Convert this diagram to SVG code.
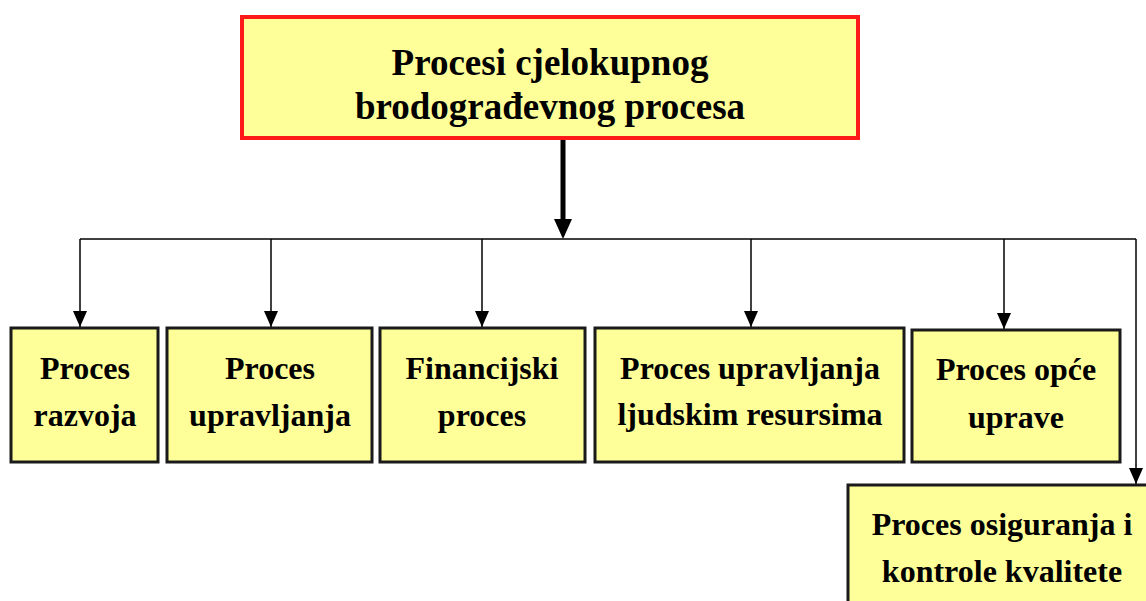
<svg xmlns="http://www.w3.org/2000/svg" width="1146" height="601" viewBox="0 0 1146 601">
<style>
.box{fill:#FFFF99;stroke:#1a1a1a;stroke-width:3}
.title{fill:#FFFF99;stroke:#FF1a1a;stroke-width:4}
.t{font-family:"Liberation Serif","Times New Roman",serif;font-weight:bold;font-size:32px;text-anchor:middle;fill:#000}
.tt{font-size:37px}
.ln{stroke:#000;stroke-width:1.5;fill:none}
.arr{marker-end:url(#ah)}
</style>
<defs>
<marker id="ah" markerWidth="16" markerHeight="14" refX="16" refY="7" orient="auto" markerUnits="userSpaceOnUse" viewBox="0 0 16 14">
<path d="M0,0 L16,7 L0,14 Z" fill="#000"/>
</marker>
</defs>
<rect width="1146" height="601" fill="#fff"/>
<g id="connectors">
<line x1="563" y1="140" x2="563" y2="220" stroke="#000" stroke-width="5"/>
<path d="M554,219 L572,219 L563,239 Z" fill="#000"/>
<path class="ln" d="M80,239 L1136,239"/>
<path class="ln arr" d="M80,239 L80,327"/>
<path class="ln arr" d="M271,239 L271,327"/>
<path class="ln arr" d="M482,239 L482,327"/>
<path class="ln arr" d="M751,239 L751,327"/>
<path class="ln arr" d="M1004,239 L1004,329"/>
<path class="ln arr" d="M1136,239 L1136,484"/>
</g>
<g id="root">
<rect class="title" x="242" y="17" width="616" height="121"/>
<text class="t tt" x="550" y="75">Procesi cjelokupnog</text>
<text class="t tt" x="550" y="119">brodograđevnog procesa</text>
</g>
<g id="n1">
<rect class="box" x="11" y="328" width="147" height="134"/>
<text class="t" x="85" y="379">Proces</text>
<text class="t" x="85" y="426">razvoja</text>
</g>
<g id="n2">
<rect class="box" x="167" y="328" width="205" height="134"/>
<text class="t" x="270" y="379">Proces</text>
<text class="t" x="270" y="426">upravljanja</text>
</g>
<g id="n3">
<rect class="box" x="380" y="328" width="205" height="134"/>
<text class="t" x="482" y="379">Financijski</text>
<text class="t" x="482" y="426">proces</text>
</g>
<g id="n4">
<rect class="box" x="595" y="328" width="309" height="134"/>
<text class="t" x="750" y="379">Proces upravljanja</text>
<text class="t" x="750" y="425">ljudskim resursima</text>
</g>
<g id="n5">
<rect class="box" x="912" y="330" width="208" height="132"/>
<text class="t" x="1016" y="380">Proces opće</text>
<text class="t" x="1016" y="428">uprave</text>
</g>
<g id="n6">
<rect class="box" x="848" y="485" width="310" height="130"/>
<text class="t" x="1002" y="535">Proces osiguranja i</text>
<text class="t" x="1002" y="582">kontrole kvalitete</text>
</g>
</svg>
